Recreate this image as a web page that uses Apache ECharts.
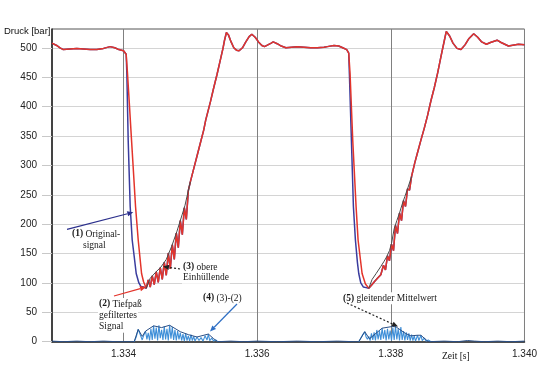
<!DOCTYPE html>
<html><head><meta charset="utf-8">
<script src="https://cdn.jsdelivr.net/npm/echarts@6/dist/echarts.min.js"></script>
<style>html,body{margin:0;padding:0;background:#fff}#c{width:540px;height:374px}</style>
</head><body><div id="c"></div>
<script>
// ---- tick labels ----
const xTickValues = [1.334, 1.336, 1.338, 1.340];
const yTickValues = [0, 50, 100, 150, 200, 250, 300, 350, 400, 450, 500];

// ---- (2) filtered signal (red) ----
const redTime = [
1.33293,1.33300,1.33305,1.33310,1.33320,1.33330,1.33340,1.33350,1.33360,1.33370,1.33380,1.33387,1.33393,1.33400,
1.33404,1.33406,1.33409,1.33412,1.33415,1.33418,1.33422,1.33427,1.33430,1.33434,
1.33437,1.33440,1.33443,1.33446,1.33449,1.33452,1.33455,1.33458,1.33461,1.33464,1.33467,1.33470,1.33473,1.33476,
1.33479,1.33482,1.33485,1.33488,1.33491,1.33494,1.33497,
1.33500,1.33505,1.33510,1.33515,1.33520,1.33523,1.33530,1.33535,1.33540,1.33545,1.33549,1.33551,
1.33554,1.33557,1.33561,1.33565,1.33569,1.33573,1.33578,1.33583,1.33588,1.33592,1.33597,1.33602,1.33607,1.33611,
1.33616,1.33621,1.33624,1.33630,1.33636,1.33643,1.33660,1.33670,1.33680,1.33690,1.33700,1.33705,1.33715,1.33722,
1.33728,1.33734,1.33737,
1.33739,1.33743,1.33748,1.33751,1.33757,1.33762,1.33767,
1.33771,1.33776,1.33780,1.33785,1.33789,1.33792,1.33795,1.33798,1.33801,1.33804,1.33807,1.33810,1.33813,1.33816,
1.33819,1.33822,1.33825,1.33828,1.33831,1.33836,1.33840,1.33845,
1.33850,1.33855,1.33860,1.33865,1.33870,1.33875,1.33880,1.33883,1.33888,1.33893,1.33899,1.33905,1.33911,1.33917,
1.33924,1.33930,1.33936,1.33943,1.33949,1.33959,1.33965,1.33976,1.33991,1.34000
];
const redPressure = [
508,504,500,497,498,499,498,497,497,499,502,500,497,495,
489,456,400,343,287,230,173,116,102,91,
105,93,112,97,119,101,126,106,135,113,151,124,165,140,
185,160,206,182,228,208,257,
272,294,316,338,360,377,408,432,455,480,500,512,
526,522,510,500,496,495,500,510,519,523,518,510,504,502,
505,508,510,507,503,500,502,501,500,500,501,502,504,503,
500,497,491,
456,343,230,173,116,98,91,
96,103,108,114,130,122,146,138,166,155,198,184,219,206,
240,230,260,258,281,305,322,343,
363,385,410,432,457,485,512,528,520,508,499,497,505,516,
524,518,510,506,509,513,509,503,506,505
];

// ---- (1) original signal (blue): differs from red on the two falling edges ----
const blueDrop1Time = [1.33404,1.33405,1.33407,1.33410,1.33413,1.33416,1.33419,1.33423,1.33426,1.33430];
const blueDrop1Pressure = [489,456,343,230,173,145,116,100,94,93];
const blueDrop2Time = [1.33738,1.33741,1.33744,1.33747,1.33750,1.33752,1.33755,1.33759,1.33763];
const blueDrop2Pressure = [456,343,230,173,135,116,100,93,92];

// ---- (3) upper envelope ----
const envTime = [1.33434,1.33440,1.33448,1.33456,1.33464,1.33472,1.33480,1.33488,1.33492,1.33500, null,
  1.33767,1.33772,1.33778,1.33785,1.33790,1.33794,1.33798,1.33801,1.33805,1.33809,1.33813,1.33817,1.33821,1.33825,1.33831];
const envPressure = [91,108,118,127,140,162,188,217,232,272, null,
  91,106,116,128,137,145,155,167,192,206,219,234,247,260,281];

// ---- (4) difference (3)-(2) ----
const diffTime = [
1.33416,1.33419,1.33422,1.33425,1.33428,1.33430,1.33433,1.33435,1.33437,1.33439,1.33441,1.33443,1.33445,1.33447,
1.33449,1.33451,1.33453,1.33455,1.33457,1.33459,1.33461,1.33463,1.33465,1.33467,1.33469,1.33471,1.33473,1.33475,
1.33477,1.33479,1.33481,1.33483,1.33485,1.33487,1.33489,1.33491,1.33493,1.33495,1.33497,1.33499,1.33501,1.33503,
1.33505,1.33507,1.33510,1.33513,1.33516,1.33519,1.33522,1.33525,1.33527,1.33529,1.33532,1.33535,1.33538,1.33541, null,
1.33752,1.33755,1.33758,1.33761,1.33763,1.33765,1.33767,1.33769,1.33771,1.33773,1.33775,1.33777,1.33779,1.33781,
1.33783,1.33785,1.33787,1.33789,1.33791,1.33793,1.33795,1.33797,1.33799,1.33801,1.33803,1.33805,1.33807,1.33809,
1.33811,1.33813,1.33815,1.33817,1.33819,1.33821,1.33823,1.33825,1.33827,1.33829,1.33831,1.33833,1.33835,1.33837,
1.33840,1.33842,1.33845,1.33847,1.33850,1.33853,1.33856,1.33860
];
const diffValue = [
0,8,21,12,3,10,18,4,15,2,22,3,27,5,
24,2,28,6,20,3,26,4,22,2,28,5,25,3,
20,2,18,4,15,2,13,1,14,2,10,1,12,2,
9,1,8,2,7,1,10,3,13,2,6,1,3,0, null,
0,6,12,17,8,4,9,2,14,3,16,2,20,4,
18,3,23,5,20,2,22,4,19,2,24,3,26,4,
22,2,25,3,18,2,16,3,14,2,12,2,10,1,
11,2,11,2,6,1,3,0
];

// ---- (5) moving average ----
const maTime = [1.33293,1.33310,1.33330,1.33350,1.33370,1.33390,1.33410,
  1.33416,1.33422,1.33428,1.33433,1.33445,1.33457,1.33469,1.33485,1.33497,1.33510,1.33527,1.33535,1.33541,
  1.33560,1.33580,1.33600,1.33630,1.33660,1.33690,1.33720,1.33745,
  1.33752,1.33761,1.33768,1.33787,1.33803,1.33808,1.33822,1.33830,1.33840,1.33845,1.33856,
  1.33880,1.33900,1.33915,1.33925,1.33940,1.33960,1.33980,1.34000];
const maValue = [1,0,1,0,1,0,0,
  0,21,9,18,27,24,28,17,12,8,13,5,0,
  1,0,1,0,1,0,1,0,
  0,17,5,23,26,25,14,10,11,11,0,
  1,0,2,1,0,1,0,1];

function pairs(t, v) { return t.map((x, i) => x === null ? [null, null] : [x, v[i]]); }
const redData = pairs(redTime, redPressure);
const origData = [].concat(
  redData.filter(p => p[0] <= 1.33400),
  pairs(blueDrop1Time, blueDrop1Pressure),
  redData.filter(p => p[0] >= 1.33434 && p[0] < 1.33738),
  pairs(blueDrop2Time, blueDrop2Pressure),
  redData.filter(p => p[0] >= 1.33767)
);

const SANS = '"Liberation Sans", Arial, sans-serif';
const SERIF = '"Liberation Serif", "Times New Roman", serif';

function label(x, y, txt) {
  return { type: 'text', x: x, y: y, silent: true, z: 100,
    style: { text: txt, font: '9.5px ' + SERIF, fill: '#1a1a1a', verticalAlign: 'middle', textVerticalAlign: 'middle',
      backgroundColor: '#fff', padding: [1, 1],
      rich: { b: { fontWeight: 'bold', fontFamily: SERIF, fontSize: 9.5, fill: '#1a1a1a' },
              n: { fontFamily: SERIF, fontSize: 9.5, fill: '#1a1a1a' } } } };
}
function arrow(x1, y1, x2, y2, color, dash) {
  const a = Math.atan2(y2 - y1, x2 - x1), L = 6, W = 2.6;
  const bx = x2 - L * Math.cos(a), by = y2 - L * Math.sin(a);
  const nx = -Math.sin(a) * W, ny = Math.cos(a) * W;
  return [
    { type: 'line', silent: true, z: 101, shape: { x1: x1, y1: y1, x2: bx, y2: by },
      style: { stroke: color, lineWidth: 1.2, lineDash: dash || null } },
    { type: 'polygon', silent: true, z: 101, shape: { points: [[x2, y2], [bx + nx, by + ny], [bx - nx, by - ny]] },
      style: { fill: color } }
  ];
}

const chart = echarts.init(document.getElementById('c'), null, { renderer: 'canvas' });
chart.setOption({
  animation: false,
  backgroundColor: '#fff',
  grid: { left: 52, right: 10, top: 29, bottom: 32.3, show: true, borderColor: '#555', borderWidth: 1 },
  xAxis: {
    type: 'value', min: 1.33293, max: 1.340,
    axisLine: { show: true, onZero: false, lineStyle: { color: '#222', width: 1.5 } },
    axisTick: { show: false, customValues: xTickValues },
    axisLabel: { customValues: xTickValues, formatter: v => v.toFixed(3), color: '#222', fontSize: 10,
      fontFamily: SANS, margin: 8 },
    splitLine: { show: true, lineStyle: { color: '#808080', width: 1 } }
  },
  yAxis: {
    type: 'value', min: 0, max: 532,
    axisLine: { show: true, lineStyle: { color: '#222', width: 1.5 } },
    axisTick: { show: true, length: 10, customValues: yTickValues, lineStyle: { color: '#c8c8c8' } },
    axisLabel: { customValues: yTickValues, color: '#222', fontSize: 10, fontFamily: SANS, margin: 15 },
    splitLine: { show: true, lineStyle: { color: '#d4d4d4', width: 1 } }
  },
  series: [
    { name: '(1) Original-signal', type: 'line', data: origData, symbol: 'none',
      lineStyle: { color: '#3a3c9e', width: 1.5 } },
    { name: '(2) Tiefpaß gefiltertes Signal', type: 'line', data: redData, symbol: 'none',
      lineStyle: { color: '#e3342b', width: 1.5 } },
    { name: '(3) obere Einhüllende', type: 'line', data: pairs(envTime, envPressure), symbol: 'none',
      lineStyle: { color: '#4a4a4a', width: 1 } },
    { name: '(4) (3)-(2)', type: 'line', data: pairs(diffTime, diffValue), symbol: 'none',
      lineStyle: { color: '#3f8fd8', width: 1.1 } },
    { name: '(5) gleitender Mittelwert', type: 'line', data: pairs(maTime, maValue), symbol: 'none',
      lineStyle: { color: '#2a4f86', width: 1 } }
  ],
  graphic: [].concat(
    [{ type: 'text', x: 4, y: 31, silent: true,
       style: { text: 'Druck [bar]', font: '9.5px ' + SANS, fill: '#111', verticalAlign: 'middle', textVerticalAlign: 'middle' } },
     { type: 'text', x: 442, y: 356, silent: true,
       style: { text: 'Zeit [s]', font: '9.5px ' + SERIF, fill: '#111', verticalAlign: 'middle', textVerticalAlign: 'middle' } },
     label(71, 234, '{b|(1)}{n| Original-}'),
     label(82, 245.7, 'signal'),
     label(98, 304, '{b|(2)}{n| Tiefpaß}'),
     label(98, 315.7, 'gefiltertes'),
     label(98, 326.7, 'Signal'),
     label(182, 267, '{b|(3)}{n| obere}'),
     label(182, 277.7, 'Einhüllende'),
     label(202, 298, '{b|(4)}{n| (3)-(2)}'),
     label(342, 298.3, '{b|(5)}{n| gleitender Mittelwert}')],
    arrow(67, 229.3, 133.3, 212.3, '#2b2f8c'),
    arrow(114, 296, 146, 287, '#e3342b'),
    arrow(180, 269, 163, 266.5, '#222', [2, 2]),
    arrow(237, 304, 210, 331.5, '#2f6fc4'),
    arrow(347, 303, 398, 326.5, '#222', [2, 2])
  )
});
</script>
</body></html>
